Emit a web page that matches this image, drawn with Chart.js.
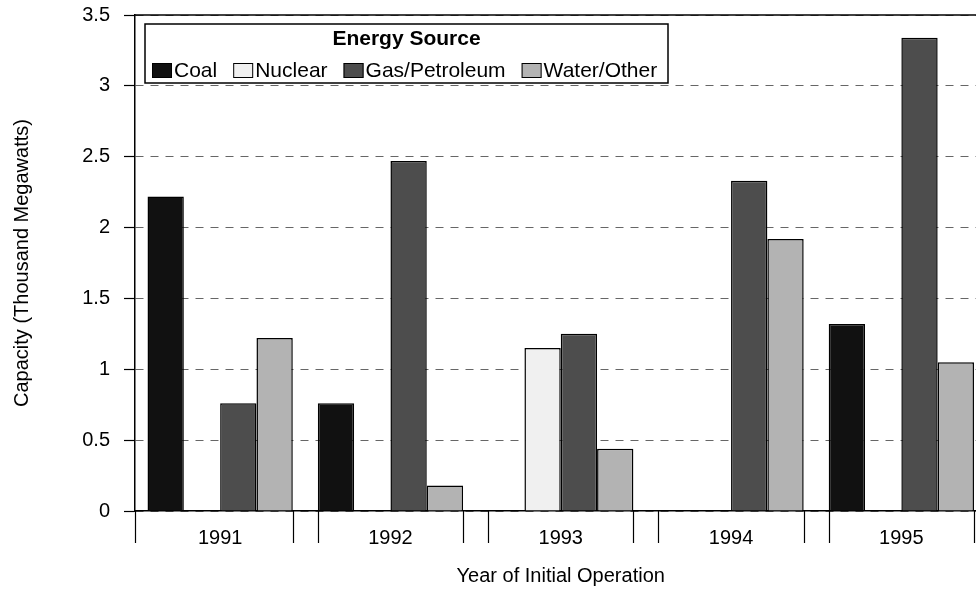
<!DOCTYPE html>
<html><head><meta charset="utf-8">
<script src="https://cdn.jsdelivr.net/npm/chart.js@4.4.0/dist/chart.umd.min.js"></script>
<style>
html,body{margin:0;padding:0;overflow:hidden;background:#fff;}
#wrap{position:relative;width:1000px;height:590px;}
canvas{display:block;}
</style></head><body>
<div id="wrap"><canvas id="c" width="1000" height="590"></canvas></div>
<script>
const categories = ['1991', '1992', '1993', '1994', '1995'];
const seriesNames = ['Coal', 'Nuclear', 'Gas/Petroleum', 'Water/Other'];
const coal = [2.22, 0.76, 0, 0, 1.32];
const nuclear = [0, 0, 1.15, 0, 0];
const gasPetroleum = [0.76, 2.47, 1.25, 2.33, 3.34];
const waterOther = [1.22, 0.18, 0.44, 1.92, 1.05];
const yTickLabels = ['0', '0.5', '1', '1.5', '2', '2.5', '3', '3.5'];
const legendTitle = 'Energy Source';
const xTitle = 'Year of Initial Operation';
const yTitle = 'Capacity (Thousand Megawatts)';

const FONT = "'Liberation Sans', Arial, sans-serif";
Chart.defaults.font.family = FONT;
Chart.defaults.font.size = 20;
Chart.defaults.color = '#000';

const fills = ['#111111', '#f0f0f0', '#4d4d4d', '#b3b3b3'];
const seriesValues = [coal, nuclear, gasPetroleum, waterOther];
const CAT_PCT = 0.853;

const decorPlugin = {
  id: 'decor',
  afterDatasetsDraw(chart) {
    const ctx = chart.ctx, a = chart.chartArea;
    ctx.save();
    ctx.strokeStyle = '#000';
    ctx.lineWidth = 1.5;
    ctx.beginPath();
    ctx.moveTo(a.left, a.top);
    ctx.lineTo(a.right, a.top);
    ctx.stroke();
    ctx.restore();
  },
  afterDraw(chart) {
    const ctx = chart.ctx, a = chart.chartArea;
    const xs = chart.scales.x;
    const n = chart.data.labels.length;
    const half = (a.right - a.left) / n * CAT_PCT / 2;
    ctx.save();
    ctx.strokeStyle = '#000';
    ctx.lineWidth = 1.2;
    for (let i = 0; i < n; i++) {
      const c = xs.getPixelForValue(i);
      const lx = i === 0 ? a.left : c - half;
      const rx = c + half;
      [lx, rx].forEach(x => {
        ctx.beginPath();
        ctx.moveTo(Math.round(x) + 0.5, a.bottom);
        ctx.lineTo(Math.round(x) + 0.5, a.bottom + 32);
        ctx.stroke();
      });
    }
    // legend box
    const box = {l: 145, t: 24, r: 668, b: 83};
    ctx.fillStyle = '#fff';
    ctx.fillRect(box.l, box.t, box.r - box.l, box.b - box.t);
    ctx.strokeStyle = '#000';
    ctx.lineWidth = 1.5;
    ctx.strokeRect(box.l, box.t, box.r - box.l, box.b - box.t);
    ctx.fillStyle = '#000';
    ctx.font = 'bold 21px ' + FONT;
    ctx.textAlign = 'center';
    ctx.textBaseline = 'middle';
    ctx.fillText(legendTitle, (box.l + box.r) / 2, 39);
    ctx.font = '21px ' + FONT;
    ctx.textAlign = 'left';
    const ds = chart.data.datasets;
    const keyW = 20, keyH = 15, keyGap = 2, gap = 16;
    let x = 152;
    const cy = 70.5;
    ds.forEach((d, i) => {
      ctx.fillStyle = d.backgroundColor;
      ctx.fillRect(x, cy - keyH / 2, keyW, keyH);
      ctx.lineWidth = 1;
      ctx.strokeStyle = '#000';
      ctx.strokeRect(x + 0.5, cy - keyH / 2 + 0.5, keyW - 1, keyH - 1);
      ctx.fillStyle = '#000';
      ctx.fillText(d.label, x + keyW + keyGap, cy + 1);
      x += keyW + keyGap + ctx.measureText(d.label).width + gap;
    });
    ctx.restore();
  }
};

new Chart(document.getElementById('c'), {
  type: 'bar',
  data: {
    labels: categories,
    datasets: seriesNames.map((name, i) => ({
      label: name,
      data: seriesValues[i],
      backgroundColor: fills[i],
      borderColor: '#000',
      borderWidth: 1.5,
      categoryPercentage: CAT_PCT,
      barPercentage: 1.0
    }))
  },
  options: {
    responsive: false,
    animation: false,
    devicePixelRatio: 1,
    layout: {padding: {top: 15, right: 13.5, left: 0, bottom: 0}},
    plugins: {legend: {display: false}, tooltip: {enabled: false}},
    scales: {
      x: {
        grid: {display: false, drawTicks: false},
        border: {display: true, color: '#000', width: 1.5},
        ticks: {padding: 15, font: {size: 20}, color: '#000'},
        title: {display: true, text: xTitle, font: {size: 20}, color: '#000', padding: {top: 0, bottom: 2}},
        afterFit(s) { s.height = 79; s.paddingLeft = 0; s.paddingRight = 0; }
      },
      y: {
        min: 0, max: 3.5,
        ticks: {
          stepSize: 0.5, padding: 14, font: {size: 20}, color: '#000',
          callback: (v, i) => yTickLabels[i]
        },
        grid: {color: '#666', lineWidth: 1, tickLength: 11, tickColor: '#000', tickWidth: 1.2},
        border: {display: true, color: '#000', width: 1.5, dash: [8, 7]},
        title: {display: true, text: yTitle, font: {size: 20}, color: '#000', padding: {top: 10, bottom: 0}},
        afterFit(s) { s.width = 135; s.paddingTop = 0; s.paddingBottom = 0; }
      }
    }
  },
  plugins: [decorPlugin]
});
</script>
</body></html>
